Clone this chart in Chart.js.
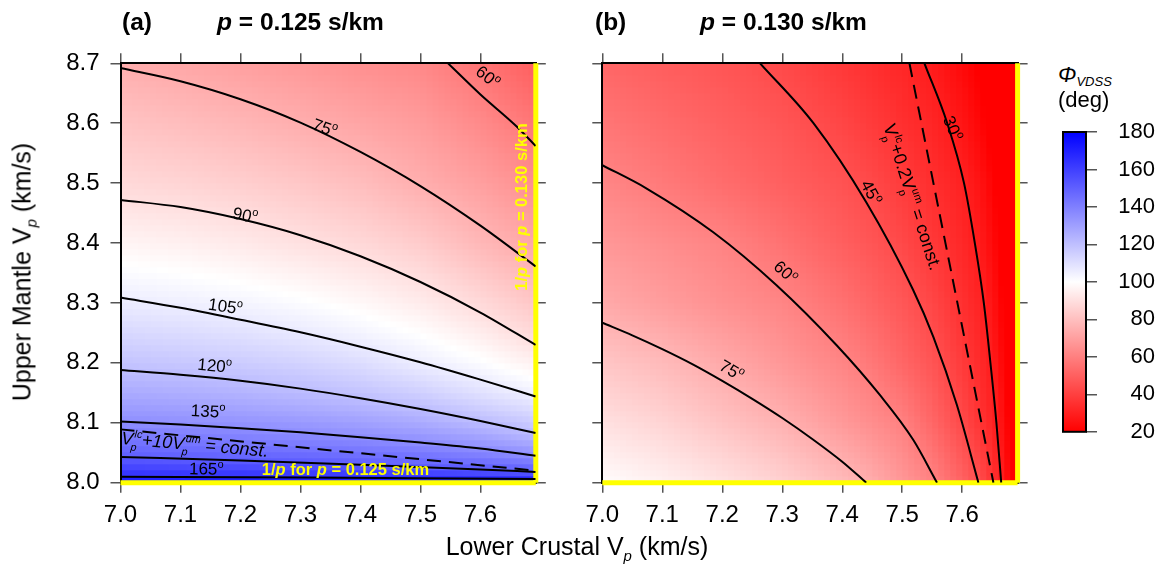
<!DOCTYPE html>
<html>
<head>
<meta charset="utf-8">
<script src="https://cdn.jsdelivr.net/npm/chart.js@4.4.1/dist/chart.umd.min.js"></script>
<style>
  html, body { margin: 0; padding: 0; background: #fff; }
  #wrap { position: relative; width: 1155px; height: 570px; overflow: hidden;
          font-family: "Liberation Sans", Arial, Helvetica, sans-serif; color: #000; }
  canvas { position: absolute; }
  .txt { position: absolute; white-space: nowrap; line-height: 1; }
  .ttl { font-weight: bold; font-size: 24.5px; }
  .ax { font-size: 25px; }
  .ax sub { font-size: 15px; font-style: italic; vertical-align: -6px; }
  .cb { font-size: 22px; }
</style>
</head>
<body>
<div id="wrap">
  <canvas id="panelA" width="560" height="570" style="left:0;top:0"></canvas>
  <canvas id="panelB" width="480" height="570" style="left:560px;top:0"></canvas>
  <canvas id="cbar" width="115" height="360" style="left:1040px;top:100px"></canvas>

  <div class="txt ttl" style="left:122px;top:10px">(a)</div>
  <div class="txt ttl" style="left:217px;top:10px"><i>p</i> = 0.125 s/km</div>
  <div class="txt ttl" style="left:595px;top:10px">(b)</div>
  <div class="txt ttl" style="left:700px;top:10px"><i>p</i> = 0.130 s/km</div>

  <div class="txt ax" style="left:24px;top:272px;transform:translate(-50%,-50%) rotate(-90deg)">Upper Mantle V<sub>p</sub> (km/s)</div>
  <div class="txt ax" style="left:577px;top:548px;transform:translate(-50%,-50%)">Lower Crustal V<sub>p</sub> (km/s)</div>

  <div class="txt cb" style="left:1058px;top:64px"><i>Φ</i><sub style="font-size:13px;vertical-align:-4px;font-style:italic">VDSS</sub></div>
  <div class="txt cb" style="left:1058px;top:89px">(deg)</div>
</div>

<script>
const FONT = "'Liberation Sans', Arial, Helvetica, sans-serif";

// ray parameters of the two panels (s/km)
const pA = 0.125;
const pB = 0.130;

// axis ranges (km/s)
const vpLcMin = 7.0;
const vpLcMax = 1 / pB;
const vpUmMin = 8.0;
const vpUmMax = 8.7;
const vpTickStep = 0.1;

// colour scale of phi_VDSS (deg)
const cbarValues = [20, 100, 180];
const cbarColours = [[255, 0, 0], [255, 255, 255], [0, 0, 255]];
const cbarTickStep = 20;

// ---- panel (a): p = 0.125 s/km, phi_VDSS on a (lower crust Vp, upper mantle Vp) grid
const vpLcA = [7.0, 7.1, 7.2, 7.3, 7.4, 7.5, 7.6, 7.692];
const vpUmA = [8.0, 8.005, 8.01, 8.02, 8.03, 8.045, 8.06, 8.08, 8.1, 8.15, 8.2, 8.25, 8.3, 8.4, 8.5, 8.6, 8.7];
const phiA = [
  [180, 180, 180, 180, 180, 180, 180, 180],
  [169.4, 169.1, 169, 168.5, 168.1, 167.7, 167.3, 166.3],
  [165, 164.8, 164.5, 164.1, 163.6, 163, 162, 160],
  [160.5, 159.8, 159, 158, 156.5, 155, 152, 149],
  [156, 155, 153.8, 152.4, 150, 148.5, 146.6, 143.3],
  [149.5, 148.7, 147.8, 146.7, 145.1, 143, 140.1, 135],
  [145.7, 144.7, 143.6, 142.2, 140.2, 137.6, 134, 129],
  [140.6, 139.5, 138.1, 136.2, 134.1, 131.5, 127.5, 121.2],
  [135.3, 134.5, 133.3, 131.7, 129.5, 126.2, 121, 116],
  [126.6, 125.4, 123.8, 121.4, 118.6, 114.9, 109.5, 104.3],
  [118.5, 117.5, 116, 113.9, 110.6, 105.6, 101, 95.5],
  [112.3, 111.1, 109.4, 106.7, 103.4, 99.7, 94.4, 87.9],
  [106.1, 104.8, 103.3, 101, 98, 94, 88.2, 82.3],
  [96.6, 95.3, 93.3, 90.5, 87.8, 83.9, 77.6, 72.3],
  [88.1, 86.7, 84.8, 82.4, 79.4, 74.6, 70, 64.6],
  [81.3, 79.4, 77.2, 74.5, 71.8, 68.8, 63.3, 57],
  [74.5, 72.3, 70, 67.7, 65, 62.5, 56.5, 49.5]
];

// contour levels of panel (a) and their traced lines [Vp lc, Vp um]
const levelsA = [60, 75, 90, 105, 120, 135, 150, 165];
const contourA60 = [[7.546, 8.70], [7.60, 8.648], [7.660, 8.595], [7.692, 8.562]];
const contourA75 = [[7.0, 8.692], [7.1, 8.670], [7.2, 8.640], [7.3, 8.601], [7.4, 8.552], [7.5, 8.495], [7.6, 8.429], [7.692, 8.361]];
const contourA90 = [[7.0, 8.472], [7.1, 8.460], [7.2, 8.440], [7.3, 8.413], [7.4, 8.378], [7.5, 8.335], [7.6, 8.284], [7.692, 8.230]];
const contourA105 = [[7.0, 8.309], [7.1, 8.292], [7.2, 8.272], [7.3, 8.251], [7.4, 8.227], [7.5, 8.201], [7.6, 8.172], [7.692, 8.144]];
const contourA120 = [[7.0, 8.188], [7.1, 8.180], [7.2, 8.170], [7.3, 8.157], [7.4, 8.141], [7.5, 8.123], [7.6, 8.103], [7.692, 8.083]];
const contourA135 = [[7.0, 8.102], [7.1, 8.097], [7.2, 8.091], [7.3, 8.084], [7.4, 8.076], [7.5, 8.067], [7.6, 8.057], [7.692, 8.045]];
const contourA150 = [[7.0, 8.043], [7.2, 8.037], [7.4, 8.030], [7.6, 8.022], [7.692, 8.018]];
const contourA165 = [[7.0, 8.010], [7.3, 8.0085], [7.692, 8.006]];
// Vp_lc + 10 Vp_um = const.
const isolineA = [[7.0, 8.089], [7.692, 8.020]];

// ---- panel (b): p = 0.130 s/km
const vpLcB = [7.0, 7.1, 7.2, 7.3, 7.4, 7.45, 7.5, 7.55, 7.6, 7.63, 7.65, 7.67, 7.68, 7.692];
const vpUmB = [8.0, 8.1, 8.2, 8.3, 8.4, 8.5, 8.6, 8.7];
const phiB = [
  [99, 95.5, 91, 85.6, 78.6, 74, 67.4, 61, 51, 44, 36, 27, 20, 0],
  [90.3, 86.5, 81, 75.6, 68, 64.2, 60.4, 52.2, 43, 36, 31.5, 24, 17.6, 0],
  [82, 78.5, 73.3, 67.5, 61.7, 57.7, 52.1, 46.5, 38.4, 33, 29, 21, 15.5, 0],
  [73.1, 69.3, 65.3, 61.8, 55.5, 51.4, 47.3, 42, 35.1, 31, 26.2, 19, 14, 0],
  [67.4, 64.5, 61.2, 55.8, 49.8, 46.7, 42.8, 37.6, 32.4, 28.4, 23.4, 16.9, 12.5, 0],
  [62, 58.2, 54.1, 50, 45.9, 42.8, 38.7, 34.6, 30.6, 25.6, 21.1, 15.2, 11.3, 0],
  [57, 53.6, 50.2, 46.8, 41.8, 38.4, 35, 31.7, 26.6, 21.8, 18, 13, 9.6, 0],
  [52, 49.3, 46.7, 43, 37.5, 34.8, 32, 28.7, 23.1, 19, 15.6, 11.3, 8.3, 0]
];

const levelsB = [75, 60, 45, 30];
const contourB75 = [[7.0, 8.267], [7.05, 8.246], [7.1, 8.223], [7.15, 8.198], [7.2, 8.170], [7.25, 8.140], [7.3, 8.108], [7.35, 8.073], [7.4, 8.035], [7.44, 8.0]];
const contourB60 = [[7.0, 8.530], [7.074, 8.491], [7.185, 8.418], [7.29, 8.330], [7.391, 8.229], [7.463, 8.146], [7.518, 8.072], [7.558, 8.0]];
const contourB45 = [[7.263, 8.70], [7.352, 8.60], [7.44, 8.468], [7.518, 8.322], [7.552, 8.243], [7.591, 8.130], [7.627, 8.0]];
const contourB30 = [[7.537, 8.70], [7.575, 8.60], [7.603, 8.50], [7.621, 8.40], [7.636, 8.30], [7.647, 8.20], [7.657, 8.10], [7.665, 8.0]];
// Vp_lc + 0.2 Vp_um = const.
const isolineB = [[7.512, 8.70], [7.652, 8.0]];

// ---------------------------------------------------------------------------
function colourOf(v) {
  const n = cbarValues.length;
  if (v <= cbarValues[0]) return cbarColours[0];
  if (v >= cbarValues[n - 1]) return cbarColours[n - 1];
  let k = 0;
  while (v > cbarValues[k + 1]) k++;
  const t = (v - cbarValues[k]) / (cbarValues[k + 1] - cbarValues[k]);
  const a = cbarColours[k], b = cbarColours[k + 1];
  return [a[0] + (b[0] - a[0]) * t, a[1] + (b[1] - a[1]) * t, a[2] + (b[2] - a[2]) * t];
}

function locate(arr, v) {
  const n = arr.length;
  if (v <= arr[0]) return [0, 0];
  if (v >= arr[n - 1]) return [n - 2, 1];
  let i = 0;
  while (v > arr[i + 1]) i++;
  return [i, (v - arr[i]) / (arr[i + 1] - arr[i])];
}

function sampleGrid(g, x, y) {
  const [i, tx] = locate(g.xs, x);
  const [j, ty] = locate(g.ys, y);
  const r0 = g.rows[j], r1 = g.rows[j + 1];
  const a = r0[i] * (1 - tx) + r0[i + 1] * tx;
  const b = r1[i] * (1 - tx) + r1[i + 1] * tx;
  return a * (1 - ty) + b * ty;
}

// shaded phi field, painted in cells of 0.01 km/s below the axes
function heatmapLayer(grid) {
  const cell = 0.01;
  return {
    id: 'heatmap',
    beforeDraw(chart) {
      const { ctx, chartArea: a } = chart;
      const xs = chart.scales.x, ys = chart.scales.y;
      const w = Math.ceil(a.right - a.left), h = Math.ceil(a.bottom - a.top);
      const off = document.createElement('canvas');
      off.width = w; off.height = h;
      const octx = off.getContext('2d');
      const img = octx.createImageData(w, h);
      const xq = [];
      for (let i = 0; i < w; i++) {
        const xv = xs.getValueForPixel(a.left + i + 0.5);
        xq.push(vpLcMin + (Math.floor((xv - vpLcMin) / cell) + 0.5) * cell);
      }
      for (let j = 0; j < h; j++) {
        const yv = ys.getValueForPixel(a.top + j + 0.5);
        const yc = vpUmMin + (Math.floor((yv - vpUmMin) / cell) + 0.5) * cell;
        for (let i = 0; i < w; i++) {
          const c = colourOf(sampleGrid(grid, xq[i], yc));
          const k = (j * w + i) * 4;
          img.data[k] = c[0]; img.data[k + 1] = c[1]; img.data[k + 2] = c[2]; img.data[k + 3] = 255;
        }
      }
      octx.putImageData(img, 0, 0);
      ctx.save();
      ctx.beginPath();
      ctx.rect(a.left, a.top, a.right - a.left, a.bottom - a.top);
      ctx.clip();
      ctx.drawImage(off, a.left, a.top);
      ctx.restore();
    }
  };
}

function fontStr(size, style, weight) {
  return `${style || 'normal'} ${weight || 'normal'} ${size}px ${FONT}`;
}

// text with optional stacked sub/superscripts, centred on (cx, cy)
function drawRich(ctx, parts, base, cx, cy, rotDeg) {
  ctx.save();
  ctx.translate(cx, cy);
  ctx.rotate(rotDeg * Math.PI / 180);
  ctx.fillStyle = base.color || '#000';
  ctx.textBaseline = 'alphabetic';
  ctx.textAlign = 'left';
  const small = base.size * 0.6;
  let total = 0;
  const widths = parts.map(p => {
    ctx.font = fontStr(p.size || base.size, p.style || base.style, base.weight);
    let w = ctx.measureText(p.t).width;
    if (p.sub || p.sup) {
      ctx.font = fontStr(small, base.style, base.weight);
      w += Math.max(p.sub ? ctx.measureText(p.sub).width : 0, p.sup ? ctx.measureText(p.sup).width : 0) + 1;
    }
    total += w;
    return w;
  });
  let x = -total / 2;
  const baseY = base.size * 0.36;
  parts.forEach((p, i) => {
    ctx.font = fontStr(p.size || base.size, p.style || base.style, base.weight);
    const mw = ctx.measureText(p.t).width;
    ctx.fillText(p.t, x, baseY + (p.dy || 0));
    if (p.sub || p.sup) {
      ctx.font = fontStr(small, base.style, base.weight);
      if (p.sup) ctx.fillText(p.sup, x + mw + 1, baseY - base.size * 0.42);
      if (p.sub) ctx.fillText(p.sub, x + mw - 2, baseY + base.size * 0.32);
    }
    x += widths[i];
  });
  ctx.restore();
}

function degreeText(level) {
  return [{ t: String(level) }, { t: 'o', size: 11, dy: -7 }];
}

function labelLayer(labels) {
  return {
    id: 'labels',
    afterDatasetsDraw(chart) {
      const { ctx } = chart;
      const xs = chart.scales.x, ys = chart.scales.y;
      labels.forEach(l => {
        drawRich(ctx, l.parts, l.font, xs.getPixelForValue(l.at[0]), ys.getPixelForValue(l.at[1]), l.rot);
      });
    }
  };
}

function lineSet(pts, extra) {
  return Object.assign({
    data: pts.map(([x, y]) => ({ x, y })),
    showLine: true, pointRadius: 0, borderColor: '#000', borderWidth: 2,
    cubicInterpolationMode: 'monotone', fill: false
  }, extra || {});
}

function criticalSets() {
  const yel = { borderColor: '#ffff00', borderWidth: 5, clip: false, cubicInterpolationMode: 'default' };
  return [
    lineSet([[vpLcMin, 1 / pA], [1 / pB, 1 / pA]], yel),
    lineSet([[1 / pB, vpUmMin], [1 / pB, vpUmMax]], yel)
  ];
}

const tickFont = { family: FONT, size: 24 };
const tickGrid = { drawOnChartArea: false, drawTicks: true, tickLength: 10, color: '#555', lineWidth: 1.5 };
const frame = { display: true, color: '#000', width: 2 };

function panelScales(g, showYLabels) {
  const base = (axis, pos, size, labels) => ({
    type: 'linear', axis, position: pos,
    min: axis === 'x' ? vpLcMin : vpUmMin,
    max: axis === 'x' ? vpLcMax : vpUmMax,
    grid: tickGrid, border: frame,
    ticks: {
      display: labels, stepSize: vpTickStep, includeBounds: false, autoSkip: false, maxRotation: 0,
      font: tickFont, color: '#000', padding: axis === 'x' ? 8 : 11,
      callback: v => v.toFixed(1)
    },
    afterFit: s => { if (axis === 'x') s.height = size; else s.width = size; }
  });
  return {
    x: base('x', 'bottom', g.bottom, true),
    xTop: base('x', 'top', g.top, false),
    y: base('y', 'left', g.left, showYLabels),
    yRight: base('y', 'right', g.right, false)
  };
}

function makePanel(id, grid, datasets, labels, g, showYLabels) {
  return new Chart(document.getElementById(id), {
    type: 'scatter',
    data: { datasets },
    options: {
      responsive: false, animation: false, devicePixelRatio: 1,
      layout: { padding: 0 },
      plugins: { legend: { display: false }, tooltip: { enabled: false }, title: { display: false } },
      scales: panelScales(g, showYLabels)
    },
    plugins: [heatmapLayer(grid), labelLayer(labels)]
  });
}

// ---- panel (a)
const contoursA = [contourA60, contourA75, contourA90, contourA105, contourA120, contourA135, contourA150, contourA165];
const setsA = contoursA.map(c => lineSet(c))
  .concat([lineSet(isolineA, { borderDash: [14, 8], cubicInterpolationMode: 'default' })])
  .concat(criticalSets());

const degFont = { size: 17 };
const labelsA = [
  { parts: degreeText(levelsA[0]), at: [7.613, 8.678], rot: 38, font: degFont },
  { parts: degreeText(levelsA[1]), at: [7.341, 8.593], rot: 20, font: degFont },
  { parts: degreeText(levelsA[2]), at: [7.208, 8.447], rot: 12, font: degFont },
  { parts: degreeText(levelsA[3]), at: [7.175, 8.295], rot: 8, font: degFont },
  { parts: degreeText(levelsA[4]), at: [7.157, 8.196], rot: 5, font: degFont },
  { parts: degreeText(levelsA[5]), at: [7.146, 8.120], rot: 3, font: degFont },
  { parts: degreeText(levelsA[7]), at: [7.143, 8.024], rot: 1, font: degFont },
  { parts: [{ t: 'V', sub: 'p', sup: 'lc' }, { t: '+10' }, { t: 'V', sub: 'p', sup: 'um' }, { t: ' = const.' }],
    at: [7.124, 8.0646], rot: 5, font: { size: 18, style: 'italic' } },
  { parts: [{ t: '1/' }, { t: 'p', style: 'italic' }, { t: ' for ' }, { t: 'p', style: 'italic' }, { t: ' = ' + pA.toFixed(3) + ' s/km' }],
    at: [7.375, 8.023], rot: 0, font: { size: 16.5, weight: 'bold', color: '#ffff00' } },
  { parts: [{ t: '1/' }, { t: 'p', style: 'italic' }, { t: ' for ' }, { t: 'p', style: 'italic' }, { t: ' = ' + pB.toFixed(3) + ' s/km' }],
    at: [7.668, 8.46], rot: -90, font: { size: 16.5, weight: 'bold', color: '#ffff00' } }
];

makePanel('panelA', { xs: vpLcA, ys: vpUmA, rows: phiA }, setsA, labelsA,
  { left: 120.5, right: 560 - 535.8, top: 63.3, bottom: 570 - 482.7 }, true);

// ---- panel (b)
const contoursB = [contourB75, contourB60, contourB45, contourB30];
const setsB = contoursB.map(c => lineSet(c))
  .concat([lineSet(isolineB, { borderDash: [14, 8], cubicInterpolationMode: 'default' })])
  .concat(criticalSets());

const labelsB = [
  { parts: degreeText(levelsB[0]), at: [7.216, 8.188], rot: 30, font: degFont },
  { parts: degreeText(levelsB[1]), at: [7.306, 8.352], rot: 42, font: degFont },
  { parts: degreeText(levelsB[2]), at: [7.449, 8.485], rot: 62, font: degFont },
  { parts: degreeText(levelsB[3]), at: [7.585, 8.592], rot: 68, font: degFont },
  { parts: [{ t: 'V', sub: 'p', sup: 'lc' }, { t: '+0.2' }, { t: 'V', sub: 'p', sup: 'um' }, { t: ' = const.' }],
    at: [7.518, 8.477], rot: 72, font: { size: 18 } }
];

makePanel('panelB', { xs: vpLcB, ys: vpUmB, rows: phiB }, setsB, labelsB,
  { left: 602.3 - 560, right: 480 - (1017.6 - 560), top: 63.3, bottom: 570 - 482.7 }, false);

// ---- colour bar
const cbarLayer = {
  id: 'cbarFill',
  beforeDraw(chart) {
    const { ctx, chartArea: a } = chart;
    const ys = chart.scales.y;
    const y0 = ys.getPixelForValue(cbarValues[0]);
    const y1 = ys.getPixelForValue(cbarValues[cbarValues.length - 1]);
    const grad = ctx.createLinearGradient(0, y0, 0, y1);
    const span = cbarValues[cbarValues.length - 1] - cbarValues[0];
    cbarValues.forEach((v, i) => {
      const c = cbarColours[i];
      grad.addColorStop((v - cbarValues[0]) / span, `rgb(${c[0]},${c[1]},${c[2]})`);
    });
    ctx.fillStyle = grad;
    ctx.fillRect(a.left, a.top, a.right - a.left, a.bottom - a.top);
  },
  afterDraw(chart) {
    const { ctx, chartArea: a } = chart;
    ctx.save();
    ctx.strokeStyle = '#000';
    ctx.lineWidth = 2;
    ctx.strokeRect(a.left, a.top, a.right - a.left, a.bottom - a.top);
    ctx.restore();
  }
};

new Chart(document.getElementById('cbar'), {
  type: 'scatter',
  data: { datasets: [] },
  options: {
    responsive: false, animation: false, devicePixelRatio: 1,
    layout: { padding: { left: 23, top: 32, bottom: 28, right: 0 } },
    plugins: { legend: { display: false }, tooltip: { enabled: false } },
    scales: {
      x: { display: false, min: 0, max: 1 },
      y: {
        position: 'right', min: cbarValues[0], max: cbarValues[cbarValues.length - 1],
        grid: { drawOnChartArea: false, drawTicks: true, tickLength: 11, color: '#555', lineWidth: 1.5 },
        border: { display: false },
        ticks: { stepSize: cbarTickStep, font: { family: FONT, size: 22 }, color: '#000', padding: 15, crossAlign: 'far' },
        afterFit: s => { s.width = 69; }
      }
    }
  },
  plugins: [cbarLayer]
});
</script>
</body>
</html>
